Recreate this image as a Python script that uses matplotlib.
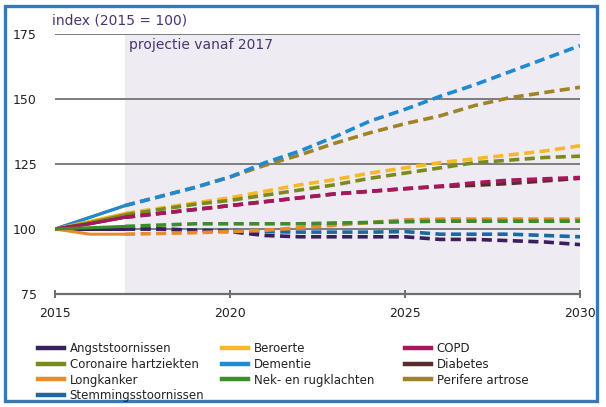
import matplotlib
matplotlib.use("Agg")
import matplotlib.pyplot as plt
from matplotlib.lines import Line2D
from matplotlib.patches import Rectangle

# jaren en index (2015 = 100)
jaren = list(range(2015, 2031))

angst = [100, 100, 100, 100, 99.5, 99, 97.5, 97, 97, 97, 97, 96, 96, 95.5, 95, 94]
beroerte = [100, 103, 106, 108, 110, 112, 114.5, 117, 119, 121.5, 123.5, 125.5, 127, 128.5, 130, 132]
copd = [100, 102, 104.5, 106, 107.5, 109, 110.5, 112, 113.5, 114.5, 115.5, 116.5, 117.8, 118.8, 119.3, 119.8]
coronair = [100, 102.5, 105.5, 107.5, 109.5, 111, 113, 115, 117, 119.5, 121.5, 123.5, 125.5, 126.5, 127.5, 128]
dementie = [100, 104.5, 109, 112.5, 116, 120, 125.5, 130, 135.5, 141.5, 146, 151, 155.5, 160.5, 165.5, 170.5]
diabetes = [100, 102, 104.5, 106, 107.5, 109, 110.5, 112, 113.5, 114.5, 115.5, 116.3, 116.8, 117.5, 118.5, 119.5]
longkanker = [100, 98, 98, 98.3, 98.6, 99, 99.5, 100.5, 101.5, 102.5, 103.5, 103.8, 103.8, 103.8, 103.8, 103.8]
nek = [100, 100.5, 101, 101.5, 102, 102, 102, 102, 102.3, 102.5, 102.8, 103, 103, 103, 103, 103]
perifeer = [100, 104.5, 109, 112.5, 116, 120, 124.5, 128.5, 133, 137, 140.5, 143.5, 147.5, 150.5, 152.5, 154.5]
stemming = [100, 100, 100, 100, 99.5, 99.5, 99, 98.8, 98.8, 98.8, 99, 98, 98, 98, 97.5, 97]

namen = ['Angststoornissen', 'Beroerte', 'COPD', 'Coronaire hartziekten', 'Dementie',
         'Diabetes', 'Longkanker', 'Nek- en rugklachten', 'Perifere artrose',
         'Stemmingsstoornissen']
reeksen = [angst, beroerte, copd, coronair, dementie, diabetes, longkanker, nek, perifeer, stemming]
kleuren = ['#3a1f5d', '#f6b72b', '#a8175e', '#7b8a1c', '#1d8ad1',
           '#5b2c2c', '#ec8a26', '#3c8c2a', '#9e8426', '#1a69a0']

# volgorde waarin de lijnen getekend worden (laatste bovenop)
volgorde = [8, 4, 1, 3, 5, 2, 9, 0, 6, 7]

fig = plt.figure(figsize=(6.06, 4.07), dpi=100)
ax = fig.add_axes([0.0908, 0.2776, 0.8663, 0.639])

ax.axvspan(2017, 2030, color='#efebf2', zorder=0, lw=0)
for y in [100, 125, 150, 175]:
    ax.axhline(y, color='#7d7d7d', lw=1.4, zorder=1)

for i in volgorde:
    ax.plot(jaren[:3], reeksen[i][:3], color=kleuren[i], lw=2.2, zorder=3,
            solid_capstyle='butt')
    ax.plot(jaren[2:], reeksen[i][2:], color=kleuren[i], lw=2.6, zorder=3,
            linestyle=(0, (2.8, 1.5)), dash_capstyle='butt')

ax.set_xlim(2015, 2030)
ax.set_ylim(75, 175)
ax.set_xticks([2015, 2020, 2025, 2030])
ax.set_yticks([75, 100, 125, 150, 175])
for s in ['top', 'right', 'left']:
    ax.spines[s].set_visible(False)
ax.spines['bottom'].set_color('#6e6e6e')
ax.spines['bottom'].set_linewidth(1.6)
ax.tick_params(axis='x', direction='inout', length=6, width=1.4, color='#6e6e6e',
               labelsize=9, pad=6, labelcolor='#222222')
ax.tick_params(axis='y', length=0, labelsize=9, pad=13, labelcolor='#222222')

fig.text(52 / 606, 1 - 20 / 407, 'index (2015 = 100)', fontsize=10,
         color='#4a3470', va='center', ha='left')
ax.text(2017.12, 170.8, 'projectie vanaf 2017', fontsize=10, color='#4a3470',
        va='center', ha='left', zorder=4)

# legenda in drie kolommen
kolommen = [[0, 3, 6, 9], [1, 4, 7], [2, 5, 8]]
kolom_x = [36 / 606, 220 / 606, 403 / 606]
for kol, x in zip(kolommen, kolom_x):
    handles = [Line2D([], [], color=kleuren[i], lw=3.2) for i in kol]
    fig.legend(handles, [namen[i] for i in kol], loc='upper left',
               bbox_to_anchor=(x, 1 - 340 / 407), frameon=False, fontsize=8.5,
               handlelength=2.2, handletextpad=0.45, labelspacing=0.22,
               borderaxespad=0, borderpad=0.2, labelcolor='#222222')

# blauwe rand rond de figuur
fig.patches.append(Rectangle((5 / 606, 6 / 407), 592 / 606, 395 / 407,
                             transform=fig.transFigure, fill=False,
                             edgecolor='#3a78b5', lw=2.4))

fig.savefig('out.png', dpi=100)
